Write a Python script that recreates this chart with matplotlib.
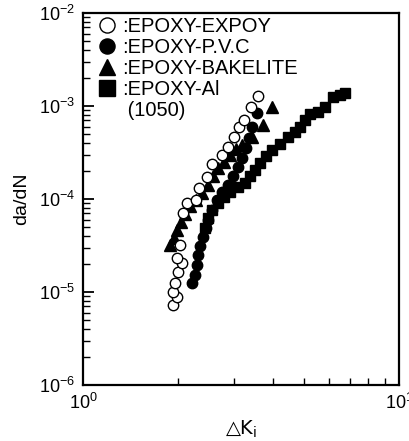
import numpy as np
import matplotlib
matplotlib.use('Agg')
import matplotlib.pyplot as plt
from matplotlib.ticker import LogLocator, NullFormatter

plt.rcParams['font.family'] = ['Liberation Sans', 'DejaVu Sans']
plt.rcParams['mathtext.fontset'] = 'custom'
plt.rcParams['mathtext.rm'] = 'Liberation Sans'
plt.rcParams['mathtext.it'] = 'Liberation Sans:italic'

#=== Data ===#
dk_expoy = [1.927, 1.984, 1.927, 1.955, 2.0, 2.057, 1.984, 2.028, 2.073, 2.134, 2.279,
            2.33, 2.467, 2.56, 2.754, 2.877, 3.006, 3.118, 3.233, 3.401, 3.58]
dadn_expoy = [7.24e-6, 8.83e-6, 1.0e-5, 1.25e-5, 1.64e-5, 2.05e-5, 2.32e-5, 3.2e-5, 7.06e-5, 9.06e-5, 9.75e-5,
              1.31e-4, 1.73e-4, 2.38e-4, 2.97e-4, 3.62e-4, 4.64e-4, 5.94e-4, 7.07e-4, 9.75e-4, 1.28e-3]

dk_pvc = [2.213, 2.262, 2.295, 2.312, 2.345, 2.398, 2.449, 2.487, 2.56, 2.655, 2.754,
          2.877, 2.984, 3.094, 3.185, 3.28, 3.35, 3.426, 3.553]
dadn_pvc = [1.25e-5, 1.52e-5, 1.95e-5, 2.5e-5, 3.13e-5, 3.9e-5, 4.88e-5, 5.94e-5, 7.62e-5, 9.75e-5, 1.19e-4,
            1.42e-4, 1.77e-4, 2.21e-4, 2.76e-4, 3.53e-4, 4.53e-4, 5.94e-4, 8.41e-4]

dk_bake = [1.885, 1.941, 1.984, 2.042, 2.103, 2.181, 2.279, 2.381, 2.487, 2.578, 2.675,
           2.793, 2.92, 3.05, 3.185, 3.426, 3.712, 3.963]
dadn_bake = [3.2e-5, 3.81e-5, 4.64e-5, 5.66e-5, 6.9e-5, 8.41e-5, 9.75e-5, 1.16e-4, 1.42e-4, 1.77e-4, 2.15e-4,
             2.5e-4, 2.97e-4, 3.45e-4, 3.81e-4, 4.64e-4, 6.25e-4, 9.75e-4]

dk_al = [2.432, 2.487, 2.56, 2.675, 2.793, 2.92, 3.094, 3.257, 3.377, 3.5, 3.631, 3.794,
         3.963, 4.2, 4.454, 4.688, 4.864, 5.04, 5.227, 5.543, 5.834, 6.18, 6.5, 6.745]
dadn_al = [4.88e-5, 6.25e-5, 7.62e-5, 9.06e-5, 1.05e-4, 1.19e-4, 1.35e-4, 1.49e-4, 1.77e-4, 2.05e-4, 2.44e-4, 2.9e-4,
           3.36e-4, 3.9e-4, 4.64e-4, 5.25e-4, 5.94e-4, 7.07e-4, 8.2e-4, 8.61e-4, 9.75e-4, 1.25e-3, 1.31e-3, 1.38e-3]

labels = [':EPOXY-EXPOY', ':EPOXY-P.V.C', ':EPOXY-BAKELITE', ':EPOXY-Al', ' (1050)']

#=== Figure ===#
fig = plt.figure(figsize=(4.09, 4.41), dpi=100)
ax = fig.add_axes([0.203, 0.127, 0.7726, 0.8435])

ms = 7.5
ax.plot(dk_al, dadn_al, 's', ms=ms, mfc='black', mec='black', ls='none', label=labels[3], zorder=3)
ax.plot(dk_bake, dadn_bake, '^', ms=ms + 0.5, mfc='black', mec='black', ls='none', label=labels[2], zorder=4)
ax.plot(dk_pvc, dadn_pvc, 'o', ms=ms, mfc='black', mec='black', ls='none', label=labels[1], zorder=5)
ax.plot(dk_expoy, dadn_expoy, 'o', ms=ms, mfc='white', mec='black', mew=1.0, ls='none', label=labels[0], zorder=6)

ax.set_xscale('log')
ax.set_yscale('log')
ax.set_xlim(1, 10)
ax.set_ylim(1e-6, 1e-2)

#=== Ticks ===#
ax.xaxis.set_major_locator(LogLocator(base=10, numticks=5))
ax.xaxis.set_minor_locator(LogLocator(base=10, subs=np.arange(2, 10), numticks=10))
ax.yaxis.set_minor_locator(LogLocator(base=10, subs=np.arange(2, 10), numticks=10))
ax.xaxis.set_minor_formatter(NullFormatter())
ax.yaxis.set_minor_formatter(NullFormatter())
ax.tick_params(which='major', direction='in', length=8, width=1.3, labelsize=13,
               top=False, right=False, pad=6)
ax.tick_params(which='minor', direction='in', length=5, width=1.0, top=False, right=False)
for s in ax.spines.values():
    s.set_linewidth(1.6)

ax.set_xlabel('\u25B3K$_\\mathrm{i}$', fontsize=14, labelpad=4,
              family='DejaVu Sans', math_fontfamily='dejavusans')
ax.set_ylabel('da/dN', fontsize=14, labelpad=6)

#=== Legend (extra blank entry for the second line of the Al label) ===#
h, l = ax.get_legend_handles_labels()
order = [3, 2, 1, 0]
blank = plt.Line2D([], [], ls='none', marker='none')
leg = ax.legend([h[i] for i in order] + [blank], [l[i] for i in order] + [labels[4]],
                loc='upper left', bbox_to_anchor=(0.05, 0.989),
                frameon=False, fontsize=14.5, markerscale=1.45, handlelength=0.8,
                handletextpad=0.35, labelspacing=0.1, borderaxespad=0,
                borderpad=0)

plt.savefig('out.png', dpi=100)
